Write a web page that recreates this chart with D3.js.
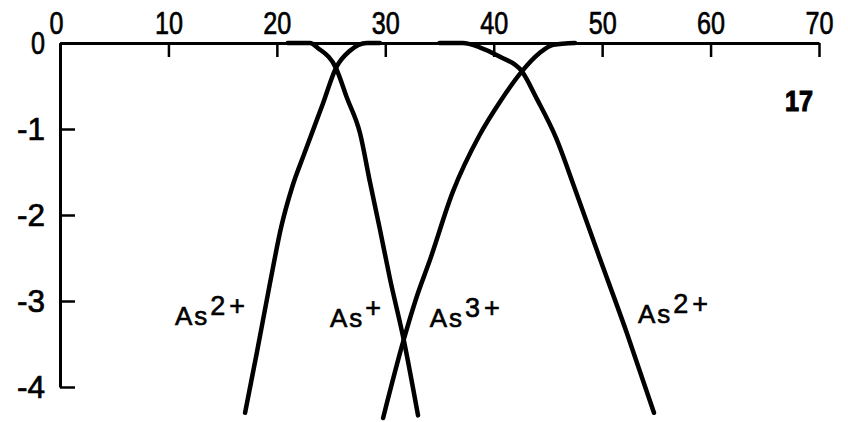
<!DOCTYPE html>
<html>
<head>
<meta charset="utf-8">
<script src="https://cdn.jsdelivr.net/npm/d3@7"></script>
<style>
  html, body { margin: 0; padding: 0; background: #fff; }
  svg { display: block; }
  .tick text, .lbl { font-family: "Liberation Sans", Arial, sans-serif; fill: #000; }
</style>
</head>
<body>
<svg id="chart" width="848" height="422"></svg>
<script>
// Axis ticks
const xTicks = [0, 10, 20, 30, 40, 50, 60, 70];
const yTicks = [0, -1, -2, -3, -4];

// Ion yield curves (log fraction vs energy)
const asPlusX = [21.0, 23.06, 23.8, 25.45, 26.47, 27.67, 28.59, 29.51, 30.43, 31.7, 33.02];
const asPlusY = [0, 0, -0.06, -0.29, -0.64, -1.05, -1.62, -2.17, -2.74, -3.45, -4.33];

const asTwoLowX = [17.07, 18.17, 19.37, 20.4, 21.4, 22.55, 24.26, 25.45, 26.74, 28.31, 29.5];
const asTwoLowY = [-4.30, -3.59, -2.79, -2.14, -1.68, -1.28, -0.70, -0.29, -0.09, 0, 0];

const asThreeX = [29.8, 31.7, 32.9, 34.1, 36.2, 38.7, 40.6, 42.6, 44.2, 45.5, 47.5];
const asThreeY = [-4.36, -3.45, -2.95, -2.53, -1.74, -1.07, -0.68, -0.33, -0.12, -0.02, 0];

const asTwoHighX = [35.0, 37.15, 38.7, 40.58, 42.6, 43.98, 45.74, 47.5, 49.6, 52.3, 54.78];
const asTwoHighY = [0, 0, -0.05, -0.16, -0.33, -0.65, -1.10, -1.70, -2.44, -3.38, -4.30];

const seriesNames = ["As+", "As2+", "As3+", "As2+"];
const panelLabel = "17";

const series = [
  { x: asPlusX, y: asPlusY },
  { x: asTwoLowX, y: asTwoLowY },
  { x: asThreeX, y: asThreeY },
  { x: asTwoHighX, y: asTwoHighY }
];

const svg = d3.select("#chart");
const x = d3.scaleLinear().domain([0, 70]).range([60, 819]);
const y = d3.scaleLinear().domain([0, -4]).range([43, 387]);

// Top energy axis, ticks pointing into the plot
const gx = svg.append("g")
  .attr("transform", `translate(0,${y(0)})`)
  .call(d3.axisTop(x).tickValues(xTicks).tickSize(-14).tickSizeOuter(0).tickPadding(9)
    .tickFormat(d => String(d)));

// Left axis, ticks pointing right
const gy = svg.append("g")
  .attr("transform", `translate(${x(0)},0)`)
  .call(d3.axisLeft(y).tickValues(yTicks).tickSize(-15).tickSizeOuter(0).tickPadding(15)
    .tickFormat(d => String(d)));

[gx, gy].forEach(g => {
  g.select(".domain").attr("stroke", "#000").attr("stroke-width", 3);
  g.selectAll(".tick line").attr("stroke", "#000").attr("stroke-width", 2.5);
  g.selectAll(".tick text")
    .attr("font-size", 32)
    .attr("fill", "#000")
    .attr("stroke", "#000")
    .attr("stroke-width", 0.7)
    .attr("lengthAdjust", "spacingAndGlyphs")
    .attr("textLength", d => String(d).length * 14);
});
gx.selectAll(".tick text").attr("dx", d => d === 0 ? -4 : 0);

// Curves
const line = d3.line()
  .x(d => x(d[0]))
  .y(d => y(d[1]))
  .curve(d3.curveMonotoneX);

svg.append("g")
  .selectAll("path")
  .data(series)
  .join("path")
  .attr("d", s => line(s.x.map((v, i) => [v, s.y[i]])))
  .attr("fill", "none")
  .attr("stroke", "#000")
  .attr("stroke-width", 4.5)
  .attr("stroke-linecap", "round");

// Curve labels: base symbol plus charge as superscript
const labelAnchors = [
  { x: 24.9, y: -3.30 },
  { x: 10.6, y: -3.28 },
  { x: 34.1, y: -3.30 },
  { x: 53.3, y: -3.26 }
];
seriesNames.forEach((name, i) => {
  const m = name.match(/^([A-Za-z]+)(.*)$/);
  const t = svg.append("text")
    .attr("class", "lbl")
    .attr("x", x(labelAnchors[i].x))
    .attr("y", y(labelAnchors[i].y))
    .attr("font-size", 26)
    .attr("stroke", "#000")
    .attr("stroke-width", 0.6)
    .style("letter-spacing", "2px");
  t.append("tspan").text(m[1]);
  t.append("tspan")
    .attr("dy", -10)
    .attr("dx", 1)
    .attr("font-size", 27)
    .style("letter-spacing", "4px")
    .text(m[2]);
});

svg.append("text")
  .attr("class", "lbl")
  .attr("x", 785)
  .attr("y", 111)
  .attr("font-size", 30)
  .attr("font-weight", "bold")
  .attr("stroke", "#000")
  .attr("stroke-width", 1.2)
  .attr("lengthAdjust", "spacingAndGlyphs")
  .attr("textLength", 28)
  .text(panelLabel);
</script>
</body>
</html>
